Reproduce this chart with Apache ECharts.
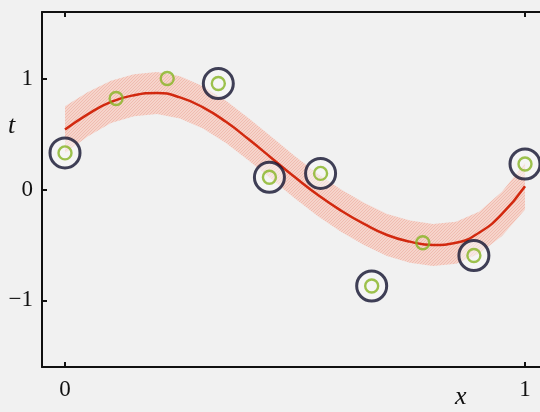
<!DOCTYPE html>
<html>
<head>
<meta charset="utf-8">
<script src="https://cdn.jsdelivr.net/npm/echarts@6/dist/echarts.min.js"></script>
<style>
html,body{margin:0;padding:0;background:#f1f1f1;}
#chart{width:540px;height:412px;}
</style>
</head>
<body>
<div id="chart"></div>
<script>
// Observed data points (x, t)
var pointX = [0, 0.1111, 0.2222, 0.3333, 0.4444, 0.5556, 0.6667, 0.7778, 0.8889, 1.0];
var pointT = [0.33, 0.82, 1.00, 0.955, 0.11, 0.145, -0.87, -0.48, -0.595, 0.23];
// which points are circled (1 = circled)
var circled = [1, 0, 0, 1, 1, 1, 1, 0, 1, 1];

// Predictive mean curve
var curveX = [0, 0.05, 0.1, 0.15, 0.2, 0.25, 0.3, 0.35, 0.4, 0.45, 0.5, 0.55, 0.6, 0.65, 0.7, 0.75, 0.8, 0.85, 0.9, 0.95, 1.0];
var curveMean = [0.54, 0.68, 0.79, 0.85, 0.87, 0.83, 0.74, 0.61, 0.45, 0.28, 0.11, -0.05, -0.19, -0.31, -0.41, -0.47, -0.50, -0.48, -0.39, -0.22, 0.03];
var bandUpper = [0.75, 0.88, 0.98, 1.04, 1.06, 1.02, 0.93, 0.80, 0.64, 0.47, 0.30, 0.14, 0.00, -0.12, -0.22, -0.28, -0.31, -0.29, -0.20, -0.02, 0.24];
var bandLower = [0.33, 0.48, 0.60, 0.66, 0.68, 0.64, 0.55, 0.42, 0.26, 0.09, -0.08, -0.24, -0.38, -0.50, -0.60, -0.66, -0.69, -0.67, -0.58, -0.42, -0.18];

var xTicks = [0, 1];
var yTicks = [-1, 0, 1];

var meanData = curveX.map(function (x, i) { return [x, curveMean[i]]; });
var bandData = curveX.map(function (x, i) { return [x, bandLower[i], bandUpper[i]]; });
var allPts = pointX.map(function (x, i) { return [x, pointT[i]]; });
var circledPts = pointX.map(function (x, i) { return [x, pointT[i]]; }).filter(function (d, i) { return circled[i]; });

// hatch pattern
var pat = document.createElement('canvas');
pat.width = 3; pat.height = 3;
var pctx = pat.getContext('2d');
pctx.fillStyle = 'rgb(246,212,203)';
pctx.fillRect(0, 0, 3, 3);
pctx.fillStyle = 'rgb(240,188,176)';
pctx.fillRect(0, 2, 1, 1);
pctx.fillRect(1, 1, 1, 1);
pctx.fillRect(2, 0, 1, 1);

var chart = echarts.init(document.getElementById('chart'), null, {renderer: 'canvas'});
var serif = '"Liberation Serif", "DejaVu Serif", serif';
var axisLineStyle = {color: '#111', width: 2};

chart.setOption({
  backgroundColor: '#f1f1f1',
  animation: false,
  grid: {left: 42, top: 12, right: 0, height: 355, containLabel: false},
  xAxis: [{
    type: 'value', min: -0.05, max: 1.0326, position: 'bottom',
    axisLine: {show: true, onZero: false, lineStyle: axisLineStyle},
    axisTick: {show: true, inside: true, length: 5, customValues: xTicks, lineStyle: {color: '#111', width: 2}},
    axisLabel: {show: true, customValues: xTicks, margin: 11, fontFamily: serif, fontSize: 23, color: '#111', showMaxLabel: true},
    splitLine: {show: false}
  }, {
    type: 'value', min: -0.05, max: 1.0326, position: 'top',
    axisLine: {show: true, onZero: false, lineStyle: axisLineStyle},
    axisTick: {show: true, inside: true, length: 5, customValues: xTicks, lineStyle: {color: '#111', width: 2}},
    axisLabel: {show: false},
    splitLine: {show: false}
  }],
  yAxis: {
    type: 'value', min: -1.6, max: 1.6,
    axisLine: {show: true, onZero: false, lineStyle: axisLineStyle},
    axisTick: {show: true, inside: true, length: 5, customValues: yTicks, lineStyle: {color: '#111', width: 2}},
    axisLabel: {show: true, customValues: yTicks, margin: 9, fontFamily: serif, fontSize: 23, color: '#111',
      formatter: function (v) { return v < 0 ? '\u2212' + Math.abs(v) : String(v); }},
    splitLine: {show: false}
  },
  graphic: [
    {type: 'text', left: 8, top: 113, style: {text: 't', fontFamily: serif, fontStyle: 'italic', fontSize: 26, fill: '#111'}},
    {type: 'text', left: 455, top: 384, style: {text: 'x', fontFamily: serif, fontStyle: 'italic', fontSize: 26, fill: '#111'}}
  ],
  series: [
    {
      type: 'custom', z: 1, xAxisIndex: 0,
      renderItem: function (params, api) {
        if (params.dataIndex !== 0) return;
        var pts = [];
        for (var i = 0; i < bandData.length; i++) pts.push(api.coord([bandData[i][0], bandData[i][2]]));
        for (var j = bandData.length - 1; j >= 0; j--) pts.push(api.coord([bandData[j][0], bandData[j][1]]));
        return {type: 'polygon', shape: {points: pts}, style: {fill: {image: pat, repeat: 'repeat'}}};
      },
      data: bandData,
      encode: {x: 0, y: 1}
    },
    {
      type: 'line', z: 2, data: meanData, smooth: 0.5, symbol: 'none',
      lineStyle: {color: '#d2290f', width: 2.5}
    },
    {
      type: 'scatter', z: 3, data: circledPts, symbol: 'circle', symbolSize: 30,
      itemStyle: {color: 'rgba(248,248,248,0.7)', borderColor: '#12122e', borderWidth: 3}
    },
    {
      type: 'scatter', z: 4, data: allPts, symbol: 'circle', symbolSize: 13,
      itemStyle: {color: 'rgba(0,0,0,0)', borderColor: '#86b422', borderWidth: 2.4}
    }
  ]
});
</script>
</body>
</html>
